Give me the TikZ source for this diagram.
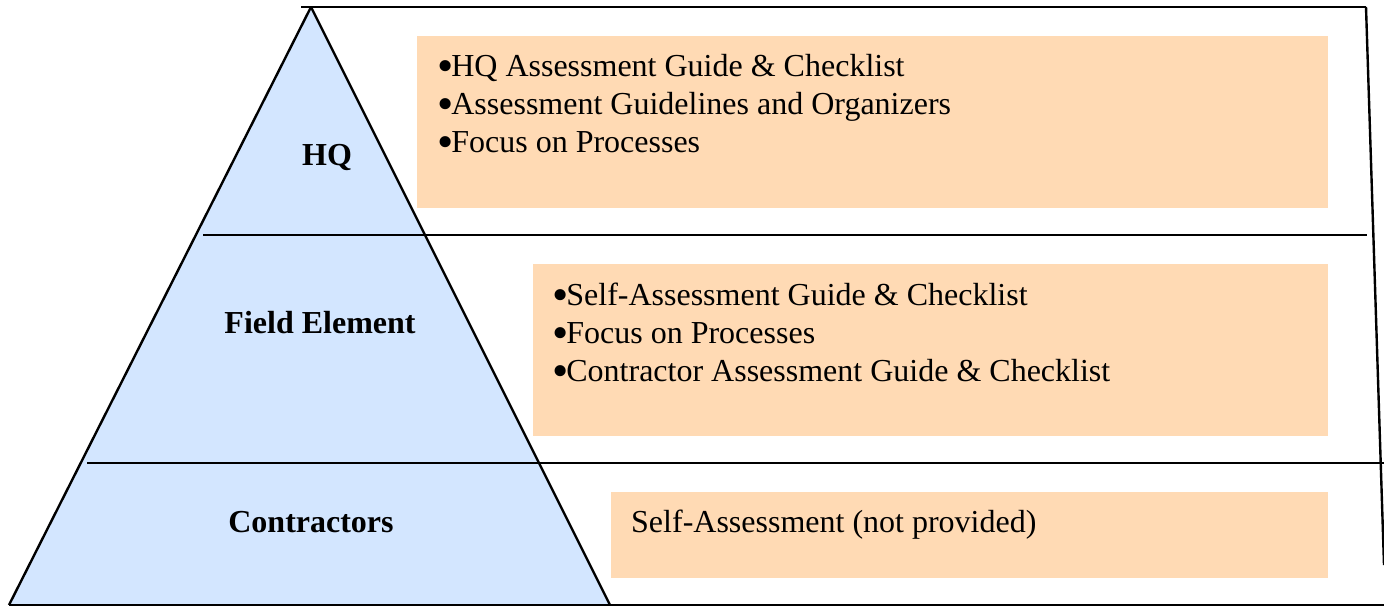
\documentclass[tikz,border=0pt]{standalone}
\usepackage{fontspec}
\setmainfont{Liberation Serif}
\definecolor{pyrblue}{RGB}{211,230,255}
\definecolor{boxorange}{RGB}{255,218,180}
\newcommand{\bigbul}{\makebox[0.38em][c]{\smash{\raisebox{-0.15em}{\scalebox{1.45}{\textbullet}}}}}
\begin{document}
\begin{tikzpicture}[x=1pt,y=-1pt,
  edge/.style={line width=2.4pt,line join=miter},
  infobox/.style={fill=boxorange,draw=none},
  level/.style={font=\fontsize{32}{38}\selectfont\bfseries,anchor=center},
  itemtext/.style={font=\fontsize{32}{38}\selectfont,anchor=north west,align=left,inner sep=0pt}]
\useasboundingbox (0,0) rectangle (1384,607);
% coordinates
\coordinate (apex) at (311,7);
\coordinate (bl) at (9,605);
\coordinate (br) at (610,605);
\coordinate (tr) at (1366,7);
% pyramid
\fill[pyrblue] (apex) -- (bl) -- (br) -- cycle;
% boxes
\fill[infobox] (417,36) rectangle (1328,208);
\fill[infobox] (533,264) rectangle (1328,436);
\fill[infobox] (611,492) rectangle (1328,578);
% lines
\draw[edge] (apex) -- (bl);
\draw[edge] (apex) -- (br);
\draw[edge] (301,7) -- (tr);
\draw[edge] (tr) -- (1384,565);
\draw[edge] (203,235) -- (1367,235);
\draw[edge] (87,463) -- (1384,463);
\draw[edge] (9,605) -- (1384,605);
% labels
\node[level] (hq) at (327,157) {HQ};
\node[level] (fe) at (320,323) {Field Element};
\node[level] (co) at (311,522) {Contractors};
% box texts
\node[itemtext] (t1) at (439,54) {\bigbul HQ Assessment Guide \& Checklist\\\bigbul Assessment Guidelines and Organizers\\\bigbul Focus on Processes};
\node[itemtext] (t2) at (554,283) {\bigbul Self-Assessment Guide \& Checklist\\\bigbul Focus on Processes\\\bigbul Contractor Assessment Guide \& Checklist};
\node[itemtext] (t3) at (631,510) {Self-Assessment (not provided)};
\end{tikzpicture}
\end{document}
